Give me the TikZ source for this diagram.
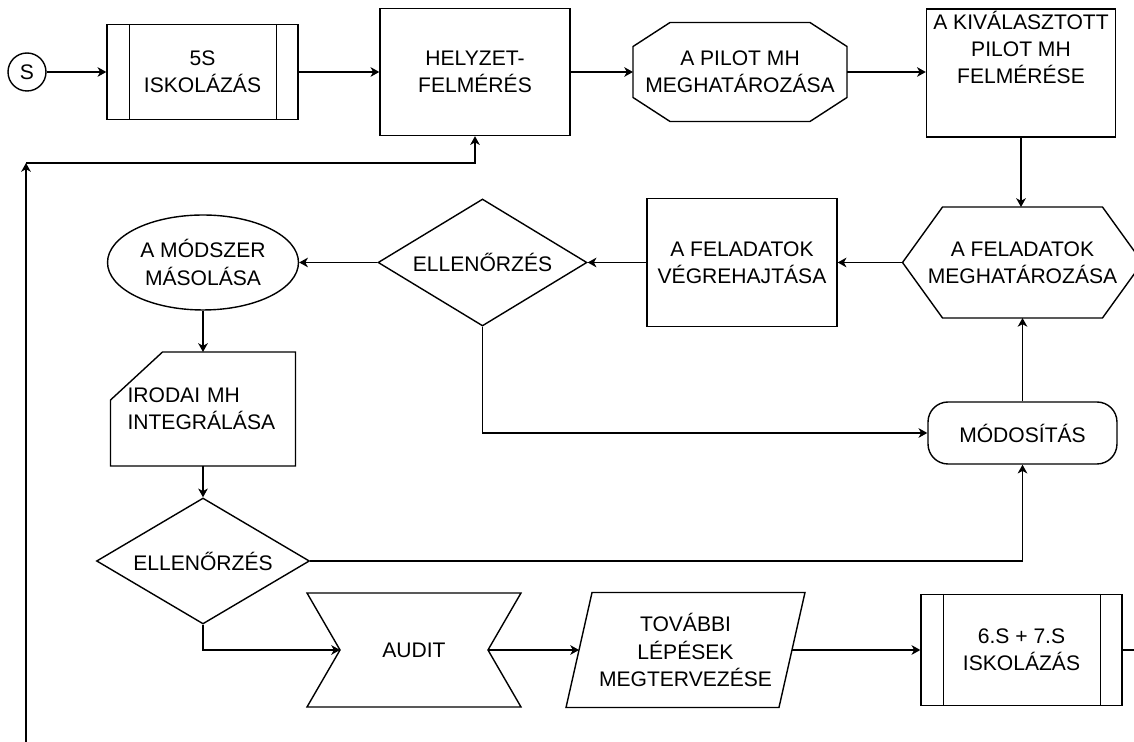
\documentclass[tikz,border=0pt]{standalone}
\usepackage{fontspec}
\setmainfont{Liberation Sans}
\usetikzlibrary{shapes.geometric}
\usetikzlibrary{arrows.meta}
\usetikzlibrary{calc}

\tikzset{
  every node/.style={font=\fontsize{12}{15.5}\selectfont, align=center},
  box/.style={draw, rectangle, inner sep=2pt},
  check/.style={draw, diamond, shape aspect=1.65, inner sep=0pt},
  free/.style={inner sep=2pt, outer sep=0pt},
}

\begin{document}
\begin{tikzpicture}[x=0.02cm, y=-0.02cm, thick, >={Stealth[length=5pt,width=5.5pt,inset=1.5pt]}]
				\useasboundingbox (0,0) rectangle (1134,742);

				% felso sor
				\node[draw, circle, minimum size=0.76cm, inner sep=0pt] (s) at (27,72) {S};
				\node[box, minimum width=3.82cm, minimum height=1.9cm] (isk5) at (202.5,72) {5S\\ISKOLÁZÁS};
				\node[box, minimum width=3.8cm, minimum height=2.54cm] (helyzet) at (475,72) {HELYZET-\\FELMÉRÉS};
				\node[free, minimum width=4.28cm, minimum height=1.98cm] (pilot) at (740,72) {A PILOT MH\\MEGHATÁROZÁSA};
				\node[box, minimum width=3.78cm, minimum height=2.56cm] (kival) at (1021,73) {};
				\node[anchor=north, inner sep=1pt] (kivaltxt) at (kival.north) {A KIVÁLASZTOTT\\PILOT MH\\FELMÉRÉSE};

				% kozepso sor
				\node[free, minimum width=4.8cm, minimum height=2.22cm] (meghat) at (1022.5,262.5) {A FELADATOK\\MEGHATÁROZÁSA};
				\node[box, minimum width=3.8cm, minimum height=2.56cm] (vegre) at (742,262.5) {A FELADATOK\\VÉGREHAJTÁSA};
				\node[check, minimum width=4.18cm, minimum height=2.54cm] (ell1) at (482.5,262.5) {ELLENŐRZÉS};
				\node[draw, ellipse, minimum width=3.82cm, minimum height=1.9cm, inner sep=0pt] (modszer) at (203,262.5) {A MÓDSZER\\MÁSOLÁSA};
				\node[free, minimum width=3.7cm, minimum height=2.28cm, text width=3.02cm, inner sep=0.34cm, align=left] (irodai) at (203,409) {IRODAI MH\\INTEGRÁLÁSA};
				\node[draw, rounded corners=0.4cm, minimum width=3.78cm, minimum height=1.24cm] (modos) at (1022.5,433) {MÓDOSÍTÁS};
				\node[check, minimum width=4.26cm, minimum height=2.52cm] (ell2) at (203,561) {ELLENŐRZÉS};

				% also sor
				\node[free, minimum width=2.96cm, minimum height=2.28cm] (audit) at (414,650) {AUDIT};
				\node[free, minimum width=4.26cm, minimum height=2.3cm] (tovabbi) at (685.5,650) {TOVÁBBI\\LÉPÉSEK\\MEGTERVEZÉSE};
				\node[box, minimum width=4.02cm, minimum height=2.22cm] (isk67) at (1021.5,650) {6.S + 7.S\\ISKOLÁZÁS};

				% alakzatok
				\draw ($(pilot.north west)+(37,0)$) -- ($(pilot.north east)+(-37,0)$) -- ($(pilot.north east)+(0,24)$) -- ($(pilot.south east)+(0,-24)$) -- ($(pilot.south east)+(-37,0)$) -- ($(pilot.south west)+(37,0)$) -- ($(pilot.south west)+(0,-24)$) -- ($(pilot.north west)+(0,24)$) -- cycle;
				\draw ($(meghat.north west)+(40,0)$) -- ($(meghat.north east)+(-40,0)$) -- (meghat.east) -- ($(meghat.south east)+(-40,0)$) -- ($(meghat.south west)+(40,0)$) -- (meghat.west) -- cycle;
				\draw ($(irodai.north west)+(52,0)$) -- (irodai.north east) -- (irodai.south east) -- (irodai.south west) -- ($(irodai.north west)+(0,48)$) -- cycle;
				\draw ($(audit.north west)+(-33,0)$) -- ($(audit.north east)+(33,0)$) -- (audit.east) -- ($(audit.south east)+(33,0)$) -- ($(audit.south west)+(-33,0)$) -- (audit.west) -- cycle;
				\draw ($(tovabbi.north west)+(13,0)$) -- ($(tovabbi.north east)+(13,0)$) -- ($(tovabbi.south east)+(-13,0)$) -- ($(tovabbi.south west)+(-13,0)$) -- cycle;
				\foreach \n in {isk5, isk67} {
					\draw ($(\n.north west)+(23,0)$) -- ($(\n.south west)+(23,0)$);
					\draw ($(\n.north east)+(-22,0)$) -- ($(\n.south east)+(-22,0)$);
				}

				% nyilak
				\draw[->] (s) -- (isk5);
				\draw[->] (isk5) -- (helyzet);
				\draw[->] (helyzet) -- (pilot);
				\draw[->] (pilot.east) -- (pilot.east -| kival.west);
				\draw[->] (kival.south) -- (kival.south |- meghat.north);
				\draw[->] (meghat) -- (vegre);
				\draw[->] (vegre) -- (ell1);
				\draw[->] (ell1) -- (modszer);
				\draw[->] (modszer) -- (irodai);
				\draw[->] (irodai) -- (ell2);
				\draw[->] (ell1.south) |- (modos.west);
				\draw[->] (modos) -- (meghat);
				\draw[->] (ell2.east) -| (modos.south);
				\draw[->] (ell2.south) |- (audit.west);
				\draw[->] (audit.east) -- (tovabbi.west);
				\draw[->] (tovabbi.east) -- (isk67.west);
				\draw (isk67.east) -- ++(40,0);

				% visszacsatolas
				\coordinate (lb) at (26,760);
				\coordinate (lt) at (26,163);
				\draw[->] (lb) -- (lt);
				\draw[->] (lt) -| (helyzet.south);
			\end{tikzpicture}
\end{document}
